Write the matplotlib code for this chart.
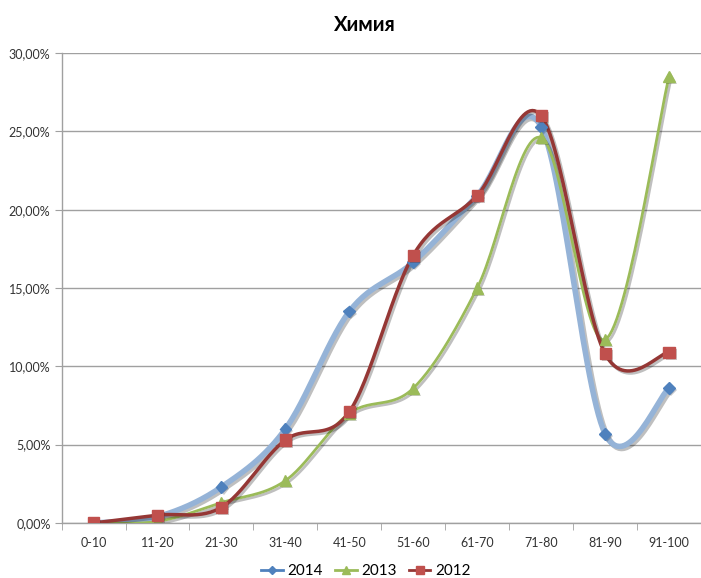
import numpy as np
import matplotlib
matplotlib.use("Agg")
import matplotlib.pyplot as plt
import matplotlib.patheffects as pe
from matplotlib.ticker import FuncFormatter, FixedLocator

plt.rcParams["font.family"] = ["Lato", "DejaVu Sans"]

categories = ["0-10", "11-20", "21-30", "31-40", "41-50",
              "51-60", "61-70", "71-80", "81-90", "91-100"]
y2014 = [0.0, 0.4, 2.3, 6.0, 13.5, 16.65, 20.9, 25.3, 5.7, 8.6]
y2013 = [0.0, 0.1, 1.3, 2.7, 7.0, 8.6, 15.0, 24.6, 11.7, 28.5]
y2012 = [0.0, 0.5, 1.0, 5.3, 7.1, 17.1, 20.9, 26.0, 10.8, 10.9]


def smooth(x, y, steps=30):
    # Excel-style smoothed line: cubic Bezier with Catmull-Rom control points
    x = np.asarray(x, float)
    y = np.asarray(y, float) / 100.0
    xs, ys = [], []
    n = len(x)
    for i in range(n - 1):
        p0 = np.array([x[max(i - 1, 0)], y[max(i - 1, 0)]])
        p1 = np.array([x[i], y[i]])
        p2 = np.array([x[i + 1], y[i + 1]])
        p3 = np.array([x[min(i + 2, n - 1)], y[min(i + 2, n - 1)]])
        c1 = p1 + (p2 - p0) / 6.0
        c2 = p2 - (p3 - p1) / 6.0
        t = np.linspace(0, 1, steps)[:, None]
        pts = ((1 - t) ** 3) * p1 + 3 * ((1 - t) ** 2) * t * c1 + 3 * (1 - t) * t ** 2 * c2 + t ** 3 * p2
        xs.extend(pts[:, 0])
        ys.extend(pts[:, 1])
    return np.array(xs), np.array(ys)


fig = plt.figure(figsize=(7.01, 5.78), dpi=100)
ax = fig.add_axes([0.0879, 0.0952, 1 - 0.0879, 0.8131])

x = np.arange(len(categories))

series = [
    (y2014, "2014", "#95B3D7", 4.0, "D", "#4F81BD", 6, "#4F81BD"),
    (y2013, "2013", "#9BBB59", 2.0, "^", "#9BBB59", 8, "#9BBB59"),
    (y2012, "2012", "#953735", 2.5, "s", "#C0504D", 8, "#953735"),
]

for vals, label, lcol, lw, mk, mcol, ms, legcol in series:
    sx, sy = smooth(x, vals)
    ax.plot(sx, sy, color=lcol, lw=lw, zorder=3, solid_capstyle="round",
            path_effects=[pe.SimpleLineShadow(offset=(1.5, -1.5), alpha=0.25), pe.Normal()])
    ax.plot(x, np.array(vals) / 100.0, linestyle="none", marker=mk, color=mcol,
            markersize=ms, markeredgecolor=mcol, zorder=4,
            path_effects=[pe.SimplePatchShadow(offset=(1.5, -1.5), alpha=0.25), pe.Normal()])
    # legend proxy
    ax.plot([], [], color=legcol, lw=2.0, marker=mk, markersize=ms - 2,
            markerfacecolor=mcol, markeredgecolor=mcol, label=label)

ax.set_xlim(-0.5, 9.38)
ax.set_ylim(0, 0.30)
ax.yaxis.set_major_locator(FixedLocator(np.arange(0, 0.301, 0.05)))
ax.yaxis.set_major_formatter(FuncFormatter(lambda v, p: f"{v * 100:.2f}%".replace(".", ",")))
ax.set_xticks(x)
ax.set_xticklabels(categories)
ax.set_xticks(np.arange(-0.5, 9.6, 1), minor=True)
ax.tick_params(axis="x", which="major", length=0, pad=10, labelsize=9, colors="#333333")
ax.tick_params(axis="x", which="minor", length=5, color="#A0A0A0", direction="out")
ax.tick_params(axis="y", length=5, color="#A0A0A0", direction="out", labelsize=9,
               labelcolor="#333333", pad=3)

ax.grid(axis="y", color="#A0A0A0", lw=1.0)
ax.set_axisbelow(True)
for s in ["top", "right"]:
    ax.spines[s].set_visible(False)
for s in ["left", "bottom"]:
    ax.spines[s].set_color("#A0A0A0")
    ax.spines[s].set_linewidth(1.0)

fig.text(0.521, 0.957, "Химия", ha="center", va="center", fontsize=14.5, fontweight="bold")

fig.legend(loc="center", bbox_to_anchor=(0.522, 0.012), ncol=3, frameon=False,
           fontsize=11, handlelength=1.4, handletextpad=0.3, columnspacing=0.8)

fig.savefig("out.png", dpi=100)
